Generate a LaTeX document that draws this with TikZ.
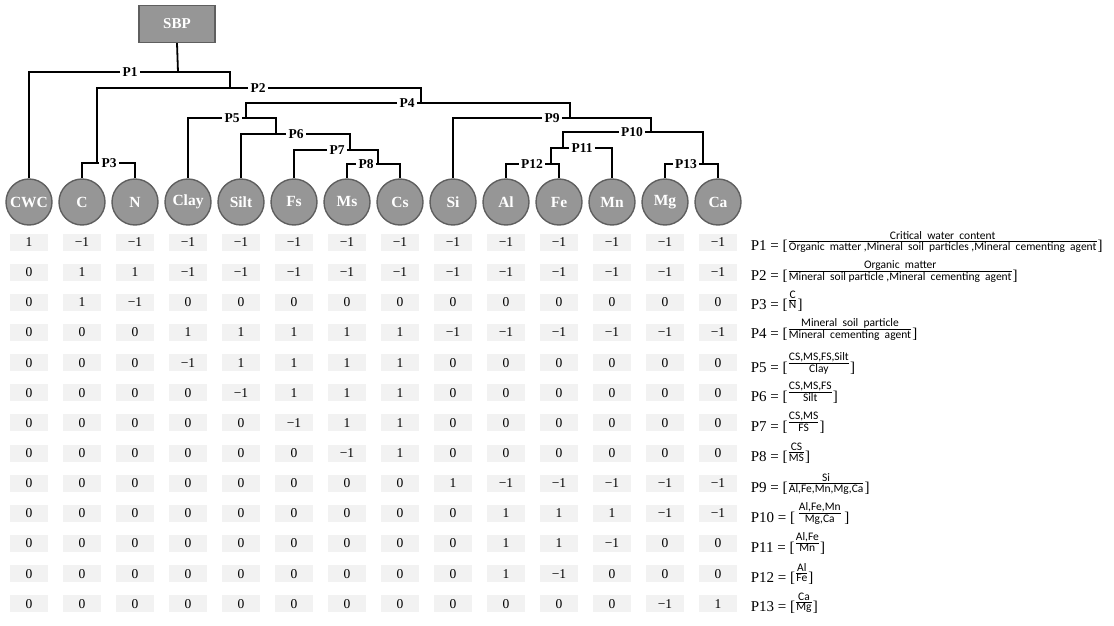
\documentclass[tikz,border=0pt]{standalone}
\usepackage{amsmath}
\usepackage{fontspec}
\setmainfont{Liberation Serif}
\newfontfamily\fracfont{Carlito}

\definecolor{nodegray}{RGB}{150,150,150}
\definecolor{rimgray}{RGB}{95,95,95}
\definecolor{cellgray}{RGB}{242,242,242}

% num over den, and the same in brackets
\newcommand{\pfrac}[2]{\raisebox{5pt}{$\genfrac{}{}{0.8pt}{}%
  {\hbox{\fracfont\fontsize{11.5}{13}\selectfont #1}}%
  {\hbox{\fracfont\fontsize{11.5}{13}\selectfont #2}}$}}
\newcommand{\prat}[2]{[\pfrac{#1}{#2}]}

\begin{document}
\begin{tikzpicture}[x=1pt,y=-1pt,
    line width=1.8pt,
    leaf/.style={circle, draw=rimgray, line width=1.4pt, fill=nodegray,
      minimum size=46, inner sep=0, text=white,
      font=\bfseries\fontsize{15.5}{15.5}\selectfont},
    rootbox/.style={rectangle, draw=rimgray, line width=1.4pt, fill=nodegray,
      minimum width=76, minimum height=37, text=white,
      font=\bfseries\fontsize{15}{15}\selectfont},
    plabel/.style={inner sep=1.5pt, font=\bfseries\fontsize{13.5}{13.5}\selectfont},
    cell/.style={fill=cellgray, minimum width=38, minimum height=17, inner sep=0,
      font=\fontsize{13.5}{13.5}\selectfont},
    formula/.style={anchor=base west, inner sep=0, font=\fontsize{15}{15}\selectfont}]

  \useasboundingbox (0,0) rectangle (1114,626);

  \node[rootbox] (sbp) at (177,24) {SBP};

  \begin{scope}[every node/.style={leaf}]
    \node (cwc)  at (29,202)  {CWC};
    \node (c)    at (82,202)  {C};
    \node (n)    at (135,202) {N};
    \node (clay) at (188,202) {Clay};
    \node (silt) at (241,202) {Silt};
    \node (fs)   at (294,202) {Fs};
    \node (ms)   at (347,202) {Ms};
    \node (cs)   at (400,202) {Cs};
    \node (si)   at (453,202) {Si};
    \node (al)   at (506,202) {Al};
    \node (fe)   at (559,202) {Fe};
    \node (mn)   at (612,202) {Mn};
    \node (mg)   at (665,202) {Mg};
    \node (ca)   at (718,202) {Ca};
  \end{scope}

  % split points
  \coordinate (j1)  at (178,72);
  \coordinate (j2)  at (230,88);
  \coordinate (j3)  at (97,163);
  \coordinate (j4)  at (421,103);
  \coordinate (j5)  at (246,118);
  \coordinate (j6)  at (276,134);
  \coordinate (j7)  at (350,150);
  \coordinate (j8)  at (378,164);
  \coordinate (j9)  at (570,118);
  \coordinate (j10) at (651,132);
  \coordinate (j11) at (563,148);
  \coordinate (j12) at (551,164);
  \coordinate (j13) at (703,164);

  \begin{scope}[every node/.style={plabel}]
    \node (p1)  at (130,72)  {P1};
    \node (p2)  at (258,88)  {P2};
    \node (p3)  at (109,163) {P3};
    \node (p4)  at (407,103) {P4};
    \node (p5)  at (232,118) {P5};
    \node (p6)  at (296,134) {P6};
    \node (p7)  at (337,150) {P7};
    \node (p8)  at (366,164) {P8};
    \node (p9)  at (552,118) {P9};
    \node (p10) at (632,132) {P10};
    \node (p11) at (582,148) {P11};
    \node (p12) at (532,164) {P12};
    \node (p13) at (686,164) {P13};
  \end{scope}

  \draw (sbp.south) -- (j1);
  \draw (p1.west) -| (cwc.north);   \draw (p1.east) -| (j2);
  \draw (p2.west) -| (j3);          \draw (p2.east) -| (j4);
  \draw (p3.west) -| (c.north);     \draw (p3.east) -| (n.north);
  \draw (p4.west) -| (j5);          \draw (p4.east) -| (j9);
  \draw (p5.west) -| (clay.north);  \draw (p5.east) -| (j6);
  \draw (p6.west) -| (silt.north);  \draw (p6.east) -| (j7);
  \draw (p7.west) -| (fs.north);    \draw (p7.east) -| (j8);
  \draw (p8.west) -| (ms.north);    \draw (p8.east) -| (cs.north);
  \draw (p9.west) -| (si.north);    \draw (p9.east) -| (j10);
  \draw (p10.west) -| (j11);        \draw (p10.east) -| (j13);
  \draw (p11.west) -| (j12);        \draw (p11.east) -| (mn.north);
  \draw (p12.west) -| (al.north);   \draw (p12.east) -| (fe.north);
  \draw (p13.west) -| (mg.north);   \draw (p13.east) -| (ca.north);

  % sign matrix
  \foreach \r/\vals in {
      1/{1,−1,−1,−1,−1,−1,−1,−1,−1,−1,−1,−1,−1,−1},
      2/{0,1,1,−1,−1,−1,−1,−1,−1,−1,−1,−1,−1,−1},
      3/{0,1,−1,0,0,0,0,0,0,0,0,0,0,0},
      4/{0,0,0,1,1,1,1,1,−1,−1,−1,−1,−1,−1},
      5/{0,0,0,−1,1,1,1,1,0,0,0,0,0,0},
      6/{0,0,0,0,−1,1,1,1,0,0,0,0,0,0},
      7/{0,0,0,0,0,−1,1,1,0,0,0,0,0,0},
      8/{0,0,0,0,0,0,−1,1,0,0,0,0,0,0},
      9/{0,0,0,0,0,0,0,0,1,−1,−1,−1,−1,−1},
      10/{0,0,0,0,0,0,0,0,0,1,1,1,−1,−1},
      11/{0,0,0,0,0,0,0,0,0,1,1,−1,0,0},
      12/{0,0,0,0,0,0,0,0,0,1,−1,0,0,0},
      13/{0,0,0,0,0,0,0,0,0,0,0,0,−1,1}}
    \foreach \v [count=\col from 0] in \vals
      \node[cell] (m-\r-\col) at ({29+53*\col},{242+30.15*(\r-1)}) {\v};

  % ratios
  \node[formula] (f1)  at (750,250) {P1 = \prat{Critical\ \ water\ \ content}{Organic\ \ matter ,Mineral\ \ soil\ \ particles ,Mineral\ \ cementing\ \ agent}};
  \node[formula] (f2)  at (750,280) {P2 = \prat{Organic\ \ matter}{Mineral\ \ soil\ particle ,Mineral\ \ cementing\ \ agent}};
  \node[formula] (f3)  at (750,309) {P3 = \prat{C}{N}};
  \node[formula] (f4)  at (750,338) {P4 = \prat{Mineral\ \ soil\ \ particle}{Mineral\ \ cementing\ \ agent}};
  \node[formula] (f5)  at (750,372) {P5 = \prat{CS,MS,FS,Silt}{Clay}};
  \node[formula] (f6)  at (750,401) {P6 = \prat{CS,MS,FS}{Silt}};
  \node[formula] (f7)  at (750,431) {P7 = \prat{CS,MS}{FS}};
  \node[formula] (f8)  at (750,461) {P8 = \prat{CS}{MS}};
  \node[formula] (f9)  at (750,492) {P9 = \prat{Si}{Al,Fe,Mn,Mg,Ca}};
  \node[formula] (f10) at (750,522) {P10 = [\,\pfrac{Al,Fe,Mn}{Mg,Ca}\,]};
  \node[formula] (f11) at (750,552) {P11 = \prat{Al,Fe}{Mn}};
  \node[formula] (f12) at (750,582) {P12 = \prat{Al}{Fe}};
  \node[formula] (f13) at (750,611) {P13 = \prat{Ca}{Mg}};

\end{tikzpicture}
\end{document}
